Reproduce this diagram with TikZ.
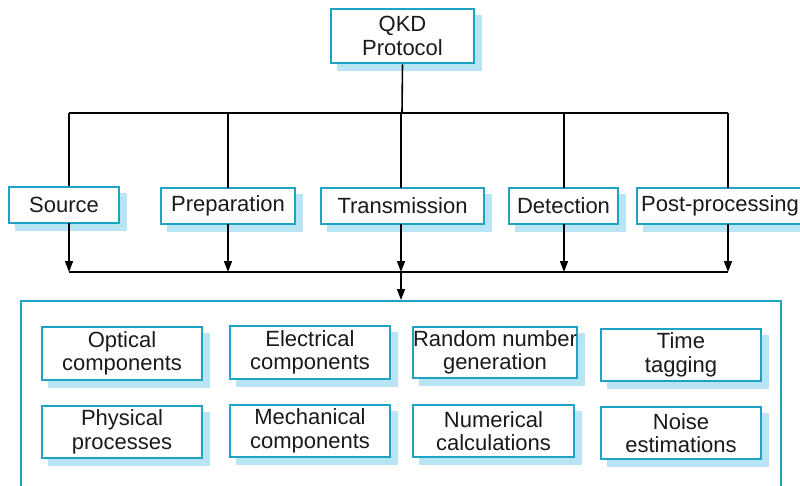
\documentclass[tikz,border=0pt]{standalone}
\usepackage{fontspec}
\setmainfont{Liberation Sans}
\usetikzlibrary{arrows.meta}
\definecolor{bd}{HTML}{1FA3C4}
\definecolor{sh}{HTML}{B8E4F4}
\definecolor{tx}{HTML}{1A1A1A}
\tikzset{
  bx/.style={draw=bd, line width=2.6pt, fill=white, align=center, inner sep=0pt,
    font=\fontsize{22}{23.5}\selectfont, text=tx,
    preaction={fill=sh, draw=sh, line width=2.6pt, transform canvas={shift={(7pt,-7pt)}}}},
  ln/.style={line width=1.6pt, black},
  ar/.style={ln, -{Triangle[length=11pt,width=8pt]}},
}
\newcommand{\mybox}[6]{% name, x1, y1, x2, y2, text
  \node[bx, minimum width={(#4-#2)*1pt}, minimum height={(#5-#3)*1pt}] (#1)
    at ({(#2+#4)/2}, {(#3+#5)/2}) {#6};}
\begin{document}
\begin{tikzpicture}[x=1pt, y=-1pt]
\useasboundingbox (0,0) rectangle (800,485);
\clip (0,0) rectangle (800,485);
% container
\node[draw=bd, line width=2.2pt, minimum width=760pt, minimum height=200pt, inner sep=0pt] (cont) at (401,401) {};
% top
\mybox{qkd}{331}{9}{474}{63}{QKD\\Protocol}
% level 2
\mybox{src}{9}{187}{119}{223}{Source}
\mybox{prep}{161}{188}{295}{224}{Preparation}
\mybox{trans}{321}{188}{484}{224}{Transmission}
\mybox{det}{509}{188}{618}{224}{Detection}
\mybox{post}{637}{188}{810}{224}{\hspace*{-7pt}Post-processing}
% connectors top
\coordinate (hc) at (402,113);
\coordinate (hl) at (69,113);
\coordinate (hr) at (728,113);
\draw[ln] (qkd.south) -- (hc);
\draw[ln] (hl) -- (hr);
\draw[ln] (hl) -- (hl |- src.north);
\draw[ln] (228,113) -- (228,188);
\draw[ln] (401,113) -- (401,188);
\draw[ln] (564,113) -- (564,188);
\draw[ln] (hr) -- (728,188);
% lower connectors
\coordinate (ll) at (69,272);
\coordinate (lr) at (728,272);
\draw[ar] (69,223) -- (ll);
\draw[ar] (228,224) -- (228,272);
\draw[ar] (401,224) -- (401,272);
\draw[ar] (564,224) -- (564,272);
\draw[ar] (728,224) -- (lr);
\draw[ln] (ll) -- (lr);
\draw[ar] (401,272) -- (401,300);
% inner boxes
\mybox{opt}{42}{327}{202}{380}{Optical\\components}
\mybox{ele}{230}{326}{390}{379}{Electrical\\components}
\mybox{rng}{413}{327}{577}{378}{Random number\\generation}
\mybox{tim}{601}{329}{761}{381}{Time\\tagging}
\mybox{phy}{42}{406}{202}{458}{Physical\\processes}
\mybox{mec}{230}{405}{390}{457}{Mechanical\\components}
\mybox{num}{413}{405}{574}{457}{Numerical\\calculations}
\mybox{noi}{601}{407}{761}{459}{Noise\\estimations}
\end{tikzpicture}
\end{document}
